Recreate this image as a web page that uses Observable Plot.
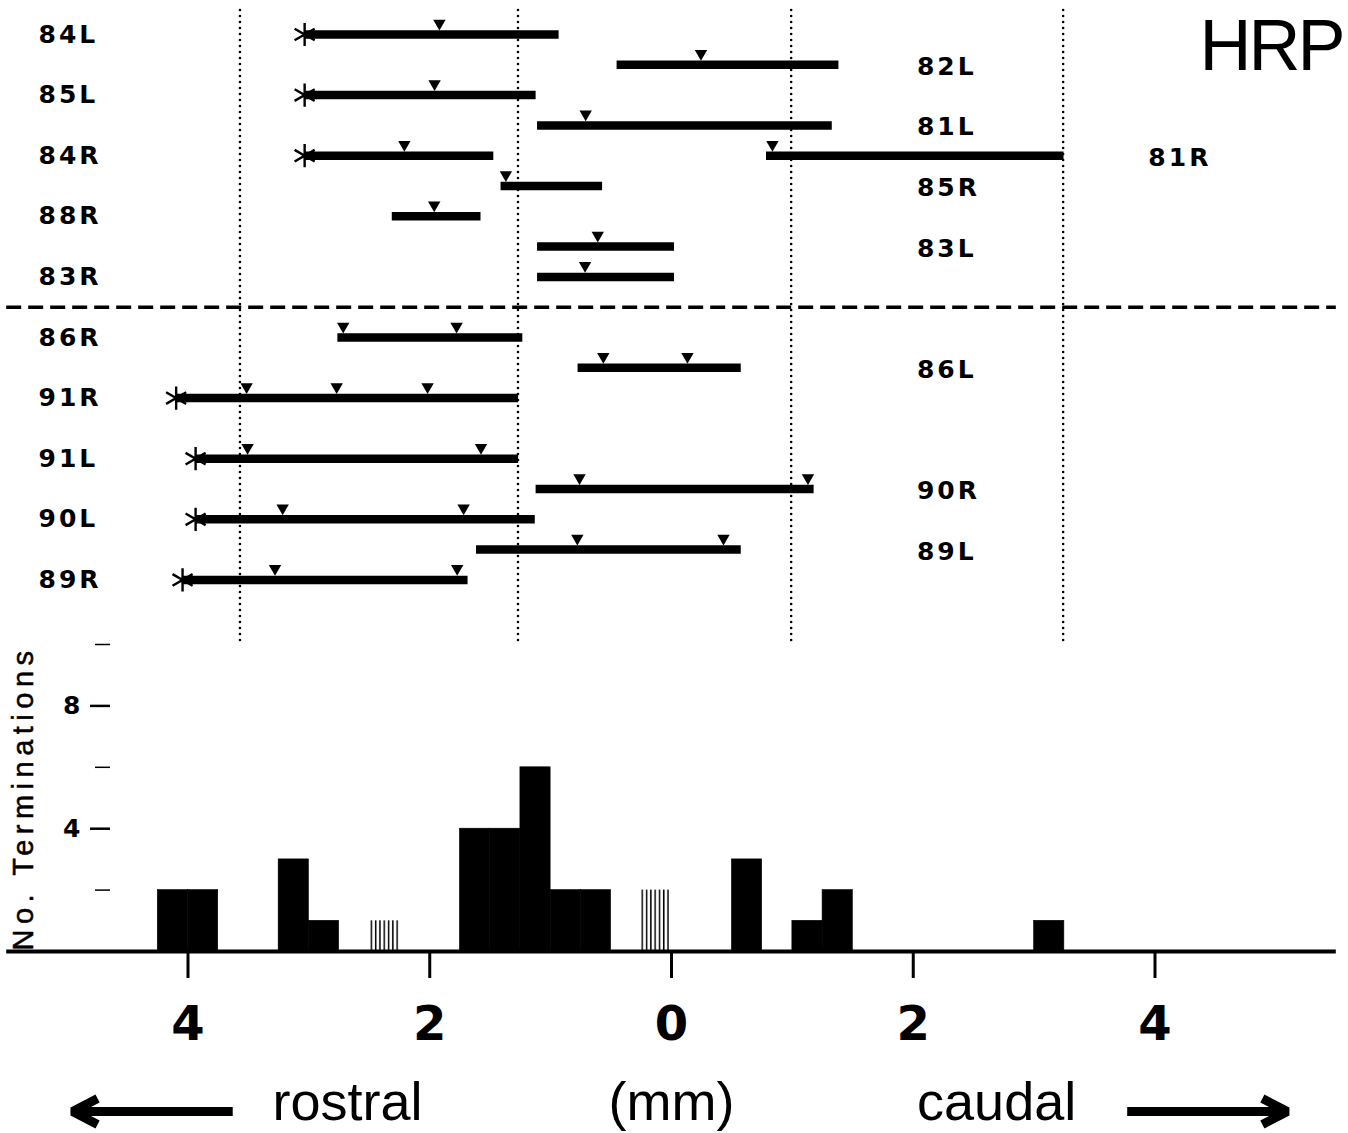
<!DOCTYPE html>
<html>
<head>
<meta charset="utf-8">
<script src="https://cdn.jsdelivr.net/npm/d3@7"></script>
<script src="https://cdn.jsdelivr.net/npm/@observablehq/plot@0.6"></script>
<style>
  html, body { margin: 0; padding: 0; background: #fff; }
  #chart { position: relative; width: 1348px; height: 1133px; overflow: hidden; background: #fff; }
  #chart svg { position: absolute; left: 0; overflow: visible; background: transparent; }
</style>
</head>
<body>
<div id="chart"></div>
<script>
// ---------------- data (x in mm, rostral negative) ----------------
const animals = ["84L","82L","85L","81L","84R","81R","85R","88R","83L","83R","86R","86L","91R","91L","90R","90L","89L","89R"];
const rowOrder = [0,1,2,3,4,4,5,6,7,8,10,11,12,14,15,16,17,18];
const labelSide = ["left","right","left","right","left","far","right","left","right","left","left","right","left","left","right","left","right","left"];
const startMm = [-3.035,-0.45,-3.035,-1.108,-3.035,0.786,-1.41,-2.31,-1.108,-1.108,-2.76,-0.773,-4.098,-3.937,-1.12,-3.937,-1.613,-4.045];
const endMm   = [-0.93,1.385,-1.12,1.33,-1.47,3.247,-0.57,-1.576,0.025,0.025,-1.23,0.577,-1.265,-1.265,1.18,-1.127,0.577,-1.683];
const startsWithAsterisk = [true,false,true,false,true,false,false,false,false,false,false,false,true,true,false,true,false,true];
const triangleMm = [
  [-1.92],[0.244],[-1.96],[-0.71],[-2.21],[0.835],[-1.37],[-1.963],[-0.61],[-0.715],
  [-2.716,-1.778],[-0.564,0.132],[-3.515,-2.77,-2.018],[-3.507,-1.576],[-0.761,1.129],
  [-3.217,-1.72],[-0.779,0.43],[-3.28,-1.773]
];
const groupDivider = [9];
const referenceMm = [-3.57,-1.27,0.99,3.24];

const binStartMm = [-4.25,-4.0,-3.25,-3.0,-2.5,-1.75,-1.5,-1.25,-1.0,-0.75,-0.25,0.5,1.0,1.25,3.0];
const binCount   = [2,2,3,1,1,4,4,6,2,2,2,3,1,2,1];
const binHatched = [false,false,false,false,true,false,false,false,false,false,true,false,false,false,false];
const binWidthMm = 0.25;

const xTicks = [-4,-2,0,2,4];
const yLabelTicks = [4,8];
const yMinorTicks = [2,6,10];

const chartTitle = "HRP";
const yTitle = "No. Terminations";
const captionText = ["rostral","(mm)","caudal"];
const captionMm = [-2.68,0,2.69];
const arrowTailMm = [-3.63,3.77];
const arrowTipMm = [-4.955,5.095];

// ---------------- layout ----------------
const W = 1348;
const xScale = {domain: [-4, 4], range: [187.5, 1154.5]};
const axisExtentMm = [-5.5, 5.5];
const rightLabelMm = 2.03, farLabelMm = 3.945;

const rows = animals.map((name, i) => ({name, slot: rowOrder[i], side: labelSide[i], start: startMm[i], end: endMm[i], asterisk: startsWithAsterisk[i]}));
const tris = triangleMm.flatMap((ts, i) => ts.map(x => ({x, slot: rowOrder[i]})));
const bins = binStartMm.map((s, i) => ({x1: s, x2: s + binWidthMm, count: binCount[i], hatched: binHatched[i]}));
const captions = captionText.map((t, i) => ({text: t, x: captionMm[i]}));
const arrows = arrowTailMm.map((t, i) => ({tail: t, tip: arrowTipMm[i]}));

const labelFont = {fontSize: 25, fontWeight: "bold", fontFamily: "DejaVu Sans", fill: "black"};

const plotA = Plot.plot({
  width: W, height: 650, marginTop: 10, marginBottom: 5, marginLeft: 0, marginRight: 0,
  x: {...xScale, axis: null},
  y: {domain: [0, 18], range: [34, 579.4], axis: null},
  marks: [
    Plot.ruleX(referenceMm, {strokeWidth: 2.6, strokeDasharray: "0 6", strokeLinecap: "round"}),
    Plot.ruleY(groupDivider, {x1: axisExtentMm[0], x2: axisExtentMm[1], strokeWidth: 3.5, strokeDasharray: "15 7"}),
    Plot.ruleY(rows, {y: "slot", x1: "start", x2: "end", strokeWidth: 8.5}),
    Plot.dot(tris, {x: "x", y: "slot", symbol: "triangle", r: 4.6, fill: "black", stroke: "none", rotate: 180, dy: -11.2}),
    Plot.dot(rows.filter(d => d.asterisk), {x: "start", y: "slot", symbol: "asterisk", r: 11, stroke: "black", strokeWidth: 2.4}),
    Plot.text(rows.filter(d => d.side === "left"), {y: "slot", text: "name", frameAnchor: "left", dx: 38, textAnchor: "start", ...labelFont}),
    Plot.text(rows.filter(d => d.side !== "left"), {x: d => d.side === "far" ? farLabelMm : rightLabelMm, y: "slot", dy: 2, text: "name", textAnchor: "start", ...labelFont}),
    Plot.text([chartTitle], {frameAnchor: "top-right", dx: -6, dy: 8, lineAnchor: "top", textAnchor: "end", fontSize: 72, fontFamily: "Liberation Sans", fill: "black"})
  ]
});

const plotB = Plot.plot({
  width: W, height: 450, marginTop: 44, marginBottom: 99, marginLeft: 110, marginRight: 0,
  x: {...xScale},
  y: {domain: [0, 10], range: [351, 44]},
  marks: [
    Plot.rect(bins.filter(d => !d.hatched), {x1: "x1", x2: "x2", y1: 0, y2: "count", fill: "black", stroke: "black", strokeWidth: 0.6}),
    Plot.rect(bins.filter(d => d.hatched), {x1: "x1", x2: "x2", y1: 0, y2: "count", fill: "url(#hatch)"}),
    Plot.ruleY([0], {x1: axisExtentMm[0], x2: axisExtentMm[1], strokeWidth: 4}),
    Plot.axisX({ticks: xTicks, tickFormat: d => String(Math.abs(d)), tickSize: 27, tickPadding: 27, strokeWidth: 3,
      fontSize: 48, fontWeight: "bold", fontFamily: "DejaVu Sans", fill: "black", label: null}),
    Plot.axisY({ticks: yLabelTicks, tickSize: 20, tickPadding: 10, strokeWidth: 2.5,
      fontSize: 25, fontWeight: "bold", fontFamily: "DejaVu Sans", fill: "black", label: null}),
    Plot.axisY({ticks: yMinorTicks, tickSize: 15, strokeWidth: 1.5, tickFormat: () => "", label: null}),
    Plot.text([yTitle], {frameAnchor: "left", dx: -87, rotate: -90, textAnchor: "middle", fontSize: 29, fontFamily: "Liberation Sans", fill: "black", stroke: "black", strokeWidth: 0.5})
  ]
});

const plotC = Plot.plot({
  width: W, height: 72, marginTop: 0, marginBottom: 0, marginLeft: 0, marginRight: 0,
  x: {...xScale, axis: null},
  y: {domain: [-1, 1], range: [100, 0], axis: null},
  marks: [
    Plot.arrow(arrows, {x1: "tail", x2: "tip", y1: 0, y2: 0, strokeWidth: 9, headLength: 4.7, headAngle: 55, strokeLinejoin: "miter", strokeLinecap: "butt"}),
    Plot.text(captions, {x: "x", y: 0, dy: -9, text: "text", fontSize: 54, fontFamily: "Liberation Sans", fill: "black"})
  ]
});

// hatch pattern for the striped bins
const defs = d3.select(plotB).insert("defs", ":first-child");
const pat = defs.append("pattern").attr("id", "hatch").attr("patternUnits", "userSpaceOnUse").attr("width", 4.3).attr("height", 8);
pat.append("rect").attr("x", 0.8).attr("y", 0).attr("width", 1.5).attr("height", 8).attr("fill", "black");

// letter spacing for the typewritten labels
d3.select(plotA).selectAll("text").each(function () {
  this.setAttribute("letter-spacing", this.textContent === chartTitle ? "-3" : "3");
});
d3.select(plotB).selectAll("text").filter(function () { return this.textContent === yTitle; }).attr("letter-spacing", 5.5);

const chart = document.getElementById("chart");
plotA.style.top = "0px";
plotB.style.top = "600px";
plotC.style.top = "1061px";
chart.append(plotA, plotB, plotC);
</script>
</body>
</html>
